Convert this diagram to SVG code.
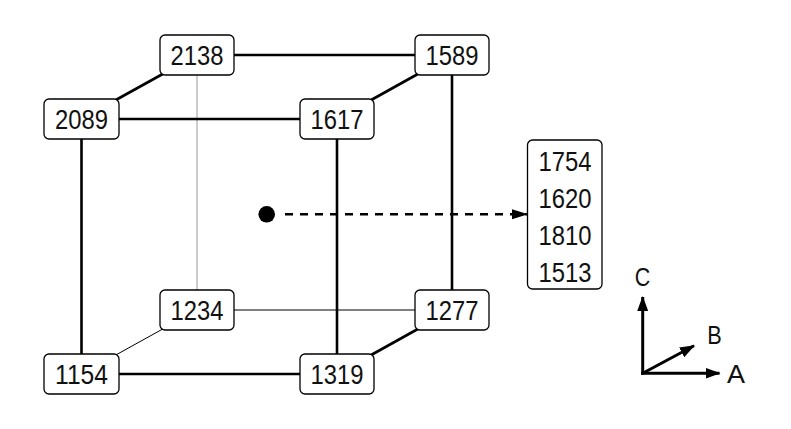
<svg xmlns="http://www.w3.org/2000/svg" width="791" height="429" viewBox="0 0 791 429">
<defs>
<style>
.box{fill:#fff;stroke:#000;stroke-width:1.3}
.t{font-family:"Liberation Sans",Arial,sans-serif;font-size:27.5px;fill:#111;text-anchor:middle}
.lbl{font-family:"Liberation Sans",Arial,sans-serif;font-size:26px;fill:#111;text-anchor:middle}
.thick{stroke:#000;stroke-width:2.6;fill:none}
.thin{stroke:#000;stroke-width:1;fill:none}
.gray{stroke:#aaa;stroke-width:1.2;fill:none}
.ax{stroke:#000;stroke-width:3;fill:none}
</style>
<marker id="ah" markerWidth="16" markerHeight="12" refX="15" refY="5" orient="auto" markerUnits="userSpaceOnUse" viewBox="0 0 16 10">
<path d="M0,0 L16,5 L0,10 Z" fill="#000"/>
</marker>
<marker id="axh" markerWidth="15" markerHeight="12" refX="14" refY="5.5" orient="auto" markerUnits="userSpaceOnUse" viewBox="0 0 15 11">
<path d="M0,0 L15,5.5 L0,11 Z" fill="#000"/>
</marker>
</defs>
<rect width="791" height="429" fill="#fff"/>
<g id="connectors">
<line class="gray" x1="197" y1="55" x2="197" y2="310"/>
<line class="thin" x1="197" y1="310" x2="452" y2="310"/>
<line class="thin" x1="197" y1="310" x2="81.5" y2="374" stroke="#333"/>
<line class="thick" x1="197" y1="55" x2="452" y2="55"/>
<line class="thick" x1="81.5" y1="119" x2="337" y2="119"/>
<line class="thick" x1="197" y1="55" x2="81.5" y2="119"/>
<line class="thick" x1="452" y1="55" x2="337" y2="119"/>
<line class="thick" x1="81.5" y1="119" x2="81.5" y2="374"/>
<line class="thick" x1="337" y1="119" x2="337" y2="374"/>
<line class="thick" x1="452" y1="55" x2="452" y2="310"/>
<line class="thick" x1="81.5" y1="374" x2="337" y2="374"/>
<line class="thick" x1="452" y1="310" x2="337" y2="374"/>
<line x1="285" y1="214.3" x2="527" y2="214.3" stroke="#000" stroke-width="2.6" stroke-dasharray="8 7" marker-end="url(#ah)"/>
<circle cx="266.7" cy="214.3" r="8.3" fill="#000"/>
</g>
<g id="n2138"><rect class="box" x="160" y="35" width="74" height="40" rx="5"/><text class="t" x="197" y="65" textLength="53" lengthAdjust="spacingAndGlyphs">2138</text></g>
<g id="n1589"><rect class="box" x="415" y="35" width="74" height="40" rx="5"/><text class="t" x="452" y="65" textLength="53" lengthAdjust="spacingAndGlyphs">1589</text></g>
<g id="n2089"><rect class="box" x="44" y="99" width="75" height="40" rx="5"/><text class="t" x="81.5" y="129" textLength="53" lengthAdjust="spacingAndGlyphs">2089</text></g>
<g id="n1617"><rect class="box" x="300" y="99" width="74" height="40" rx="5"/><text class="t" x="337" y="129" textLength="53" lengthAdjust="spacingAndGlyphs">1617</text></g>
<g id="n1234"><rect class="box" x="160" y="290" width="74" height="40" rx="5"/><text class="t" x="197" y="320" textLength="53" lengthAdjust="spacingAndGlyphs">1234</text></g>
<g id="n1277"><rect class="box" x="415" y="290" width="74" height="40" rx="5"/><text class="t" x="452" y="320" textLength="53" lengthAdjust="spacingAndGlyphs">1277</text></g>
<g id="n1154"><rect class="box" x="44" y="354" width="75" height="40" rx="5"/><text class="t" x="81.5" y="384" textLength="53" lengthAdjust="spacingAndGlyphs">1154</text></g>
<g id="n1319"><rect class="box" x="300" y="354" width="74" height="40" rx="5"/><text class="t" x="337" y="384" textLength="53" lengthAdjust="spacingAndGlyphs">1319</text></g>
<g id="values"><rect class="box" x="527.5" y="140" width="74.5" height="149" rx="5"/>
<text class="t" x="565" y="170.5" textLength="53" lengthAdjust="spacingAndGlyphs">1754</text>
<text class="t" x="565" y="207.5" textLength="53" lengthAdjust="spacingAndGlyphs">1620</text>
<text class="t" x="565" y="244.5" textLength="53" lengthAdjust="spacingAndGlyphs">1810</text>
<text class="t" x="565" y="281.5" textLength="53" lengthAdjust="spacingAndGlyphs">1513</text>
</g>
<g id="axes">
<line class="ax" x1="642.7" y1="374.8" x2="642.7" y2="297" marker-end="url(#axh)"/>
<line class="ax" x1="641.2" y1="373.3" x2="719.5" y2="373.3" marker-end="url(#axh)"/>
<line class="ax" x1="642.7" y1="373.3" x2="694" y2="345.7" marker-end="url(#axh)"/>
<text class="lbl" x="642.5" y="286" textLength="15.5" lengthAdjust="spacingAndGlyphs">C</text>
<text class="lbl" x="714.5" y="344" textLength="14.5" lengthAdjust="spacingAndGlyphs">B</text>
<text class="lbl" x="736" y="383" textLength="18" lengthAdjust="spacingAndGlyphs">A</text>
</g>
</svg>
